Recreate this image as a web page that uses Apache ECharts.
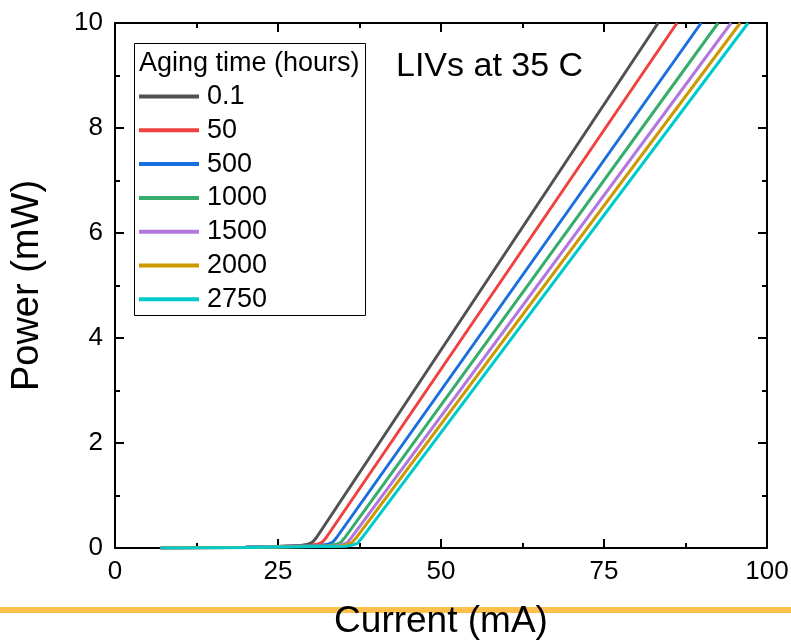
<!DOCTYPE html>
<html>
<head>
<meta charset="utf-8">
<script src="https://cdn.jsdelivr.net/npm/echarts@6/dist/echarts.min.js"></script>
<style>
  html, body { margin: 0; padding: 0; background: #fff; }
  #chart { width: 791px; height: 642px; }
</style>
</head>
<body>
<div id="chart"></div>
<script>
(function () {
    // legend labels (aging time, hours)
    const agingTimes = ['0.1', '50', '500', '1000', '1500', '2000', '2750'];
    const colors = ['#515151', '#F14040', '#1A6FDF', '#37AD6B', '#B177DE', '#CC9900', '#00CBCC'];

    // current (mA), one list per curve
    const current_01 = [7, 10, 20, 25, 28.5, 29.6, 30.3, 30.9, 83.3];
    const current_50 = [7, 10, 20, 25, 29.9, 31.0, 31.8, 32.4, 86.2];
    const current_500 = [7, 10, 20, 25, 31.5, 32.6, 33.4, 34.0, 89.9];
    const current_1000 = [7, 10, 20, 25, 32.8, 33.8, 34.6, 35.2, 92.5];
    const current_1500 = [7, 10, 20, 25, 33.8, 34.8, 35.6, 36.2, 94.5];
    const current_2000 = [7, 10, 20, 25, 34.5, 35.5, 36.3, 36.9, 95.9];
    const current_2750 = [7, 10, 20, 25, 35.4, 36.4, 37.2, 37.8, 97.1];

    // optical power (mW) at those currents
    const power_01 = [0, 0.003, 0.012, 0.03, 0.05, 0.07, 0.11, 0.2, 10];
    const power_50 = [0, 0.003, 0.012, 0.03, 0.05, 0.07, 0.11, 0.2, 10];
    const power_500 = [0, 0.003, 0.012, 0.028, 0.05, 0.07, 0.11, 0.2, 10];
    const power_1000 = [0, 0.003, 0.011, 0.025, 0.045, 0.065, 0.1, 0.19, 10];
    const power_1500 = [0, 0.002, 0.01, 0.022, 0.04, 0.06, 0.1, 0.19, 10];
    const power_2000 = [0, 0.002, 0.009, 0.02, 0.04, 0.06, 0.1, 0.18, 10];
    const power_2750 = [0, 0.002, 0.008, 0.018, 0.035, 0.055, 0.09, 0.18, 10];

    const xTicks = [0, 25, 50, 75, 100];
    const yTicks = [0, 2, 4, 6, 8, 10];

    const currents = [current_01, current_50, current_500, current_1000, current_1500, current_2000, current_2750];
    const powers = [power_01, power_50, power_500, power_1000, power_1500, power_2000, power_2750];

    const font = '"Liberation Sans", Arial, sans-serif';

    var chart = echarts.init(document.getElementById('chart'), null, {renderer: 'canvas'});

    let series = agingTimes.map((name, i) => {
        return {
            name: name,
            type: 'line',
            xAxisIndex: 0,
            yAxisIndex: 0,
            showSymbol: false,
            symbol: 'none',
            smooth: false,
            animation: false,
            lineStyle: {color: colors[i], width: 3},
            itemStyle: {color: colors[i]},
            data: currents[i].map((c, k) => [c, powers[i][k]])
        };
    });

    const tickStyle = {
        axisLine: {show: true, onZero: false, lineStyle: {color: '#000', width: 2}},
        axisTick: {show: true, inside: true, length: 9, lineStyle: {color: '#000', width: 2}},
        minorTick: {show: true, splitNumber: 2, length: 5, lineStyle: {color: '#000', width: 2}},
        splitLine: {show: false},
        minorSplitLine: {show: false}
    };

    var option = {
        backgroundColor: '#fff',
        animation: false,
        grid: {left: 115, right: 24, top: 23, bottom: 94, containLabel: false, outerBoundsMode: 'none'},
        legend: {
            orient: 'vertical',
            left: 139,
            top: 83,
            padding: 0,
            itemGap: 6.8,
            itemWidth: 60,
            itemHeight: 4,
            icon: 'rect',
            selectedMode: false,
            textStyle: {fontFamily: font, fontSize: 27, color: '#000', lineHeight: 26, padding: [0, 0, 0, 3]},
            data: agingTimes
        },
        xAxis: [{
            type: 'value',
            position: 'bottom',
            min: 0, max: 100, interval: 25,
            name: 'Current (mA)',
            nameLocation: 'middle',
            nameGap: 55,
            nameTextStyle: {fontFamily: font, fontSize: 37, color: '#000'},
            axisLabel: {
                fontFamily: font, fontSize: 26, color: '#000', margin: 11,
                formatter: (v) => xTicks.includes(v) ? String(v) : ''
            },
            ...tickStyle
        }, {
            type: 'value',
            position: 'top',
            min: 0, max: 100, interval: 25,
            axisLabel: {show: false},
            ...tickStyle
        }],
        yAxis: [{
            type: 'value',
            position: 'left',
            min: 0, max: 10, interval: 2,
            name: 'Power (mW)',
            nameLocation: 'middle',
            nameGap: 68,
            nameTextStyle: {fontFamily: font, fontSize: 38, color: '#000'},
            axisLabel: {
                fontFamily: font, fontSize: 26, color: '#000', margin: 12,
                formatter: (v) => yTicks.includes(v) ? String(v) : ''
            },
            ...tickStyle
        }, {
            type: 'value',
            position: 'right',
            min: 0, max: 10, interval: 2,
            axisLabel: {show: false},
            ...tickStyle
        }],
        graphic: [
            {
                type: 'rect',
                z: 0,
                shape: {x: 134.5, y: 43.5, width: 231, height: 272},
                style: {fill: '#fff', stroke: '#000', lineWidth: 1}
            },
            {
                type: 'text',
                z: 10,
                left: 139,
                top: 50,
                style: {text: 'Aging time (hours)', font: '27px ' + font, fill: '#000'}
            },
            {
                type: 'text',
                z: 10,
                left: 396,
                top: 50,
                style: {text: 'LIVs at 35 C', font: '34px ' + font, fill: '#000'}
            },
            {
                type: 'line',
                z: -1,
                shape: {x1: 0, y1: 610, x2: 791, y2: 610},
                style: {stroke: '#fdc04d', lineWidth: 6}
            }
        ],
        series: series
    };

    chart.setOption(option);
})();
</script>
</body>
</html>
